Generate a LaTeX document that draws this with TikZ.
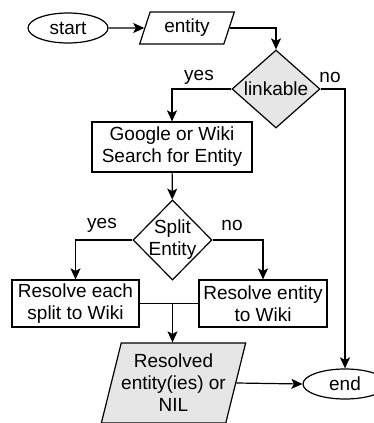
\documentclass[tikz,border=0pt]{standalone}
\usepackage{fontspec}
\setmainfont{Liberation Sans}
\usetikzlibrary{arrows.meta,shapes.geometric}
\definecolor{boxgray}{HTML}{E6E6E6}

\begin{document}
\begin{tikzpicture}[x=1pt,y=-1pt,>={Stealth[length=11pt,width=10pt,inset=2.5pt]},
  every node/.style={font=\fontsize{19}{22}\selectfont,inner sep=0pt},
  terminal/.style={draw,ellipse,line width=1.2pt},
  iobox/.style={draw,trapezium,trapezium left angle=70,trapezium right angle=110,trapezium stretches=true,line width=1.2pt,align=center},
  decision/.style={draw,diamond,line width=1.2pt},
  process/.style={draw,rectangle,line width=1.2pt,align=center},
  flow/.style={->,line width=1.2pt}]
\useasboundingbox (0,0) rectangle (374,423);
\node[terminal,minimum width=80,minimum height=30] (start) at (68,28) {start};
\node[iobox,minimum width=95,minimum height=32] (entity) at (187,28) {entity};
\node[decision,fill=boxgray,aspect=1.13,minimum width=88,minimum height=78] (linkable) at (276,89) {linkable};
\node[process,minimum width=160,minimum height=50] (search) at (172,147) {Google or Wiki\\Search for Entity};
\node[decision,aspect=1,minimum width=79,minimum height=80,label={[align=center,font=\fontsize{19}{22}\selectfont]center:Split\\Entity}] (split) at (172.5,240) {};
\node[process,minimum width=127,minimum height=47] (each) at (75.5,303.5) {Resolve each\\split to Wiki};
\node[process,minimum width=128,minimum height=47] (whole) at (263,303.5) {Resolve entity\\to Wiki};
\node[iobox,fill=boxgray,trapezium left angle=71,trapezium right angle=109,minimum width=141,minimum height=80] (resolved) at (173.5,383) {Resolved\\entity(ies) or\\NIL};
\node[terminal,minimum width=84,minimum height=30] (end) at (345,384) {end};

\draw[flow] (start) -- (entity);
\draw[flow] (entity.east) -| (linkable.north);
\draw[flow] (linkable.west) -| (search.north);
\draw[flow] (linkable.east) -| (end.north);
\draw[flow] (search) -- (split);
\draw[flow] (split.west) -| (each.north);
\draw[flow] (split.east) -| (whole.north);
\coordinate (merge) at (split.south |- each.east);
\draw[line width=1.2pt] (each.east) -- (whole.west);
\draw[flow] (merge) -- (merge |- resolved.north);
\draw[flow] (resolved.east) -- (end.west);

\node (yes1) at (199,77) {yes};
\node (no1) at (330,77) {no};
\node (yes2) at (102,225) {yes};
\node (no2) at (232,225) {no};
\end{tikzpicture}
\end{document}
